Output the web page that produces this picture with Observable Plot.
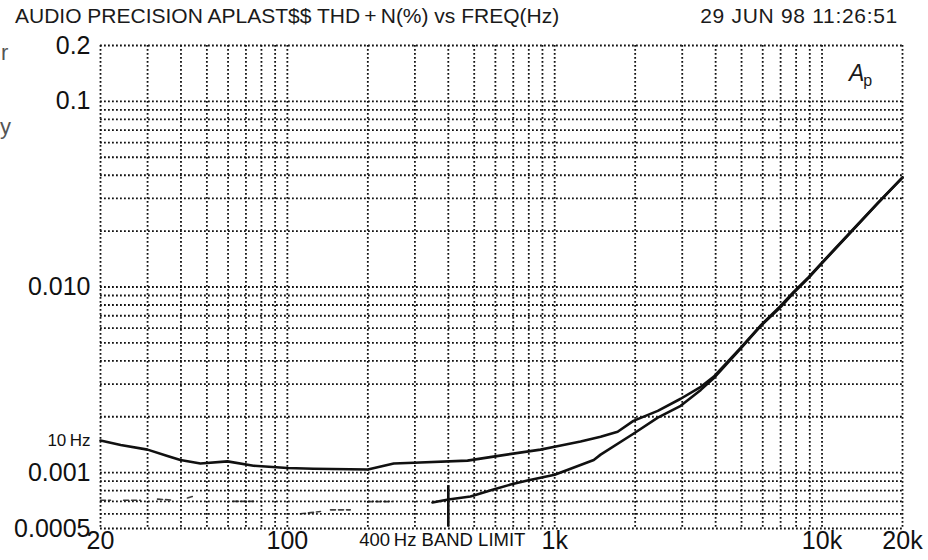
<!DOCTYPE html>
<html>
<head>
<meta charset="utf-8">
<script src="https://cdn.jsdelivr.net/npm/d3@7"></script>
<script src="https://cdn.jsdelivr.net/npm/@observablehq/plot@0.6"></script>
<style>
  html, body { margin: 0; padding: 0; background: #fff; }
  #wrap { position: relative; width: 928px; height: 560px; overflow: hidden; font-family: "Liberation Sans", Arial, Helvetica, sans-serif; color: #1a1a1a; }
  .abs { position: absolute; white-space: nowrap; }
</style>
</head>
<body>
<div id="wrap">
  <div id="chart"></div>
  <div class="abs" style="left:15px; top:4px; font-size:21px;">AUDIO PRECISION APLAST$$ THD&#8201;+&#8201;N(%) vs FREQ(Hz)</div>
  <div class="abs" style="right:30px; top:4px; font-size:21px; letter-spacing:0.7px;">29 JUN 98 11:26:51</div>
  <div class="abs" style="left:849px; top:60px; font-size:23px;"><i>A</i><span style="font-size:16px; position:relative; top:5px; left:-1px;">p</span></div>
  <div class="abs" style="left:1px; top:40px; font-size:22px; color:#555;">r</div>
  <div class="abs" style="left:0px; top:114px; font-size:22px; color:#555;">y</div>
</div>
<script>
// ---- tick labels ----
const freqTicks = [20, 100, 1000, 10000, 20000];
const freqTickLabels = ["20", "100", "1k", "10k", "20k"];
const thdTicks = [0.2, 0.1, 0.01, 0.001, 0.0005];
const thdTickLabels = ["0.2", "0.1", "0.010", "0.001", "0.0005"];

// ---- grid lines ----
const freqGrid = [20, 30, 40, 50, 60, 70, 80, 90, 100, 200, 300, 400, 500, 600, 700, 800, 900,
  1000, 2000, 3000, 4000, 5000, 6000, 7000, 8000, 9000, 10000, 20000];
const thdGrid = [0.0005, 0.0006, 0.0007, 0.0008, 0.0009, 0.001, 0.002, 0.003, 0.004, 0.005,
  0.006, 0.007, 0.008, 0.009, 0.01, 0.02, 0.03, 0.04, 0.05, 0.06, 0.07, 0.08, 0.09, 0.1, 0.2];

// ---- curve 1: 10 Hz (full band) ----
const curve10HzFreq = [20, 23.8, 30, 35.6, 39.8, 47.3, 59.7, 74.7, 100, 125, 200, 250, 297, 472, 590,
  885, 1000, 1250, 1485, 1720, 1970, 2430, 2960, 3520, 3930, 4960, 5890, 7000, 7830, 8910, 9880,
  12470, 16150, 20000];
const curve10HzThd = [0.00149, 0.00141, 0.00133, 0.00123, 0.00117, 0.00112, 0.00115, 0.00109, 0.00106,
  0.00105, 0.00104, 0.00112, 0.00113, 0.00116, 0.00122, 0.00133, 0.00138, 0.00147, 0.00156, 0.00166,
  0.0019, 0.00215, 0.0025, 0.0029, 0.00328, 0.0047, 0.0062, 0.0079, 0.0094, 0.0113, 0.0133,
  0.0190, 0.0283, 0.039];

// ---- curve 2: 400 Hz band limit ----
const curve400HzFreq = [349, 400, 484, 590, 684, 791, 1000, 1400, 1485, 1970, 2430, 2960, 3520, 3930,
  4960, 5890, 7000, 7830, 8910, 9880, 12470, 16150, 20000];
const curve400HzThd = [0.00069, 0.000716, 0.000743, 0.00081, 0.000862, 0.000906, 0.000975, 0.00117,
  0.00125, 0.00162, 0.00198, 0.00229, 0.00279, 0.00322, 0.00465, 0.00615, 0.0078, 0.0093, 0.0112,
  0.0132, 0.0189, 0.0282, 0.0388];
const bandLimitFreq = [400];
const bandLimitLow = [0.00051];
const bandLimitHigh = [0.00085];

// ---- faint residual trace below 0.001 (broken) ----
const residualFreq = [20, 21.8, NaN, 24.4, 28.2, NaN, 32.7, 37.5, NaN, 42.3, 45, NaN, 62.9, 74.7, NaN,
  112, 133, NaN, 145, 172, NaN, 200, 246];
const residualThd = [0.00071, 0.00071, NaN, 0.00071, 0.00071, NaN, 0.00072, 0.00071, NaN, 0.00073, 0.00075, NaN,
  0.00070, 0.00070, NaN, 0.00060, 0.000617, NaN, 0.00063, 0.00063, NaN, 0.000698, 0.000698];

// ---- annotations ----
const annotations = [
  {f: 20, v: 0.00149, text: "10\u2009Hz"}
];
const bandLabel = [{f: 400, text: "400\u2009Hz BAND LIMIT"}];

const curve10Hz = curve10HzFreq.map((f, i) => ({f, v: curve10HzThd[i]}));
const curve400Hz = curve400HzFreq.map((f, i) => ({f, v: curve400HzThd[i]}));
const residual = residualFreq.map((f, i) => ({f, v: residualThd[i]}));
const spike = bandLimitFreq.map((f, i) => ({f, lo: bandLimitLow[i], hi: bandLimitHigh[i]}));
const xLabels = freqTicks.map((f, i) => ({f, text: freqTickLabels[i]}));
const yLabels = thdTicks.map((v, i) => ({v, text: thdTickLabels[i]}));

const ink = "#111";
const gridStyle = {stroke: ink, strokeWidth: 1.8, strokeDasharray: "1.8,2.2"};

const chart = Plot.plot({
  width: 928,
  height: 560,
  marginTop: 45,
  marginBottom: 32,
  marginLeft: 100,
  marginRight: 26,
  style: {fontFamily: "'Liberation Sans', Arial, Helvetica, sans-serif", background: "transparent", color: ink},
  x: {type: "log", domain: [20, 20000], axis: null},
  y: {type: "log", domain: [0.0005, 0.2], axis: null},
  marks: [
    Plot.ruleX(freqGrid, {x: d => d, ...gridStyle}),
    Plot.ruleY(thdGrid, {y: d => d, ...gridStyle}),
    Plot.text(xLabels, {x: "f", text: "text", frameAnchor: "bottom", dy: 20, fontSize: 25, fill: ink}),
    Plot.text(yLabels, {y: "v", text: "text", frameAnchor: "left", textAnchor: "end", dx: -10, fontSize: 25, fill: ink}),
    Plot.line(residual, {x: "f", y: "v", stroke: ink, strokeWidth: 1.6, strokeDasharray: "5,3", strokeOpacity: 0.8}),
    Plot.ruleX(spike, {x: "f", y1: "lo", y2: "hi", stroke: ink, strokeWidth: 2.6}),
    Plot.line(curve400Hz, {x: "f", y: "v", stroke: ink, strokeWidth: 2.6}),
    Plot.line(curve10Hz, {x: "f", y: "v", stroke: ink, strokeWidth: 2.6}),
    Plot.text(annotations, {x: "f", y: "v", text: "text", textAnchor: "end", dx: -10, fontSize: 17, fill: ink}),
    Plot.text(bandLabel, {x: "f", text: "text", frameAnchor: "bottom", dy: 17, dx: -6, fontSize: 18.5, fill: ink})
  ]
});
document.getElementById("chart").appendChild(chart);
</script>
</body>
</html>
